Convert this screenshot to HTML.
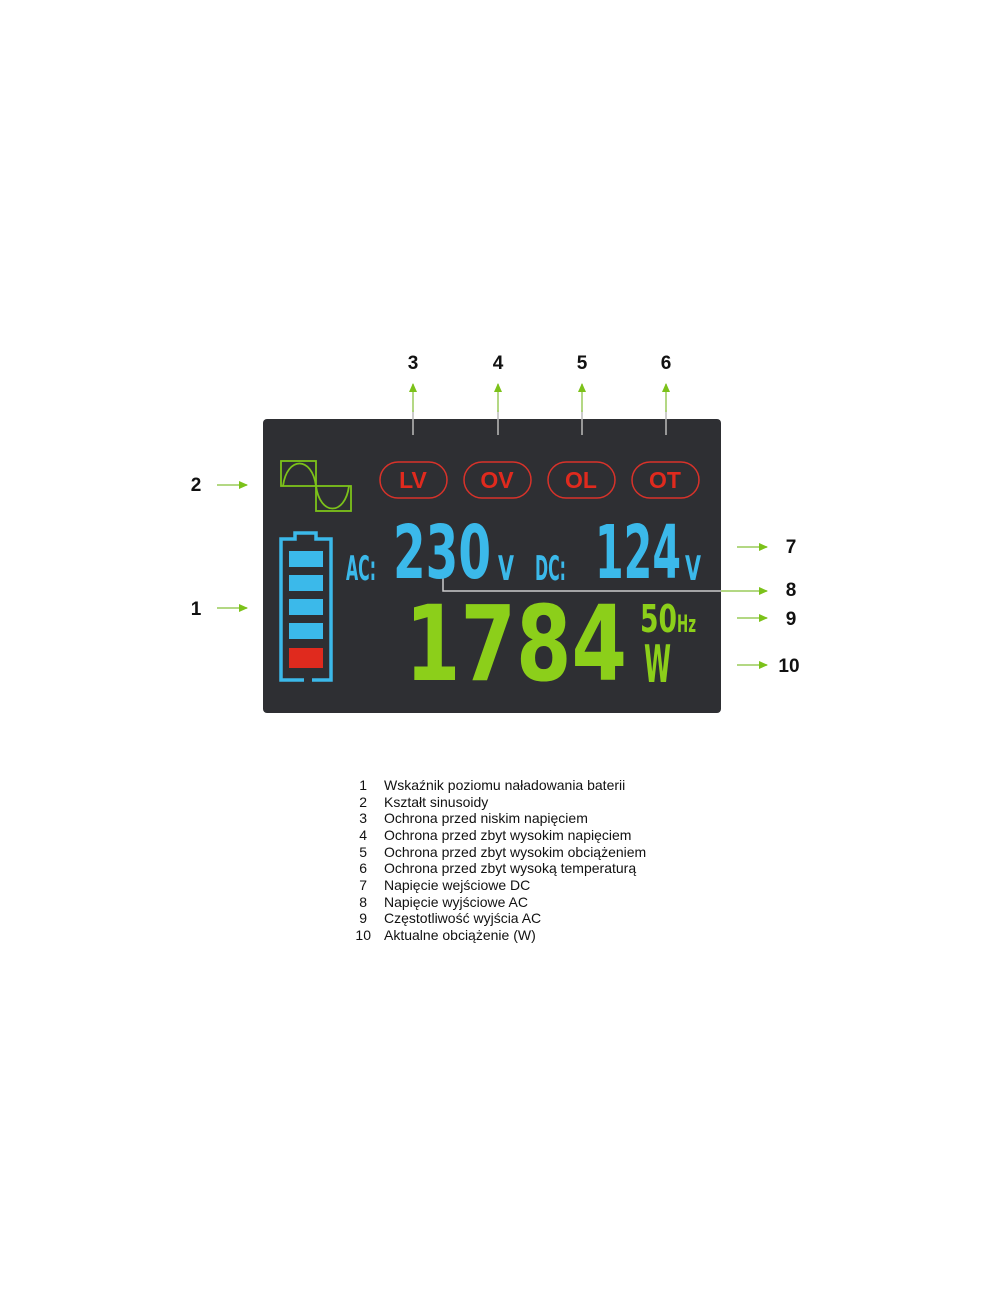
<!DOCTYPE html>
<html><head><meta charset="utf-8"><style>
html,body{margin:0;padding:0;background:#fff;width:1000px;height:1309px;overflow:hidden}
svg{display:block}
.n{font-family:"Liberation Sans",sans-serif;font-weight:bold;font-size:19px;fill:#111}
.l{font-family:"Liberation Sans","Noto Sans CJK SC",sans-serif;font-size:14px;fill:#111}
.seg{font-family:"DejaVu Sans","Liberation Sans",sans-serif;font-weight:bold}
</style></head><body>
<svg width="1000" height="1309" viewBox="0 0 1000 1309">
<defs>
<marker id="a" markerWidth="10" markerHeight="10" refX="8" refY="5" orient="auto" markerUnits="userSpaceOnUse"><path d="M0,1 L9,5 L0,9 Z" fill="#7cc21a"/></marker>
</defs>
<rect x="263" y="419" width="458" height="294" rx="4" fill="#2e2f33"/>
<g class="n" text-anchor="middle">
<text x="413" y="369">3</text><text x="498" y="369">4</text><text x="582" y="369">5</text><text x="666" y="369">6</text>
<text x="196" y="491">2</text><text x="196" y="615">1</text>
<text x="791" y="553">7</text><text x="791" y="596">8</text><text x="791" y="625">9</text><text x="789" y="672">10</text>
</g>
<g stroke-width="1.5">
<g stroke="#bbb"><line x1="413" y1="435" x2="413" y2="410"/><line x1="498" y1="435" x2="498" y2="410"/><line x1="582" y1="435" x2="582" y2="410"/><line x1="666" y1="435" x2="666" y2="410"/></g>
<g stroke="#9acb5a" marker-end="url(#a)"><line x1="413" y1="412" x2="413" y2="384"/><line x1="498" y1="412" x2="498" y2="384"/><line x1="582" y1="412" x2="582" y2="384"/><line x1="666" y1="412" x2="666" y2="384"/>
<line x1="217" y1="485" x2="247" y2="485"/><line x1="217" y1="608" x2="247" y2="608"/>
<line x1="737" y1="547" x2="767" y2="547"/><line x1="737" y1="618" x2="767" y2="618"/><line x1="737" y1="665" x2="767" y2="665"/>
<line x1="721" y1="591" x2="767" y2="591"/></g>
<polyline points="443,578 443,591 721,591" fill="none" stroke="#ccc"/>
</g>
<g fill="none" stroke="#7cc21a" stroke-width="1.8">
<rect x="281" y="461" width="35" height="25"/><rect x="316" y="486" width="35" height="25"/>
<path d="M283,486 C287,456 312,456 316,486 C320,516 345,516 349,486"/>
</g>
<g fill="none" stroke="#d8322a" stroke-width="1.5">
<rect x="380" y="462" width="67" height="36" rx="18"/><rect x="464" y="462" width="67" height="36" rx="18"/>
<rect x="548" y="462" width="67" height="36" rx="18"/><rect x="632" y="462" width="67" height="36" rx="18"/>
</g>
<g font-family="Liberation Sans,sans-serif" font-weight="bold" font-size="23" fill="#e02a1e" text-anchor="middle">
<text x="413" y="488">LV</text><text x="497" y="488">OV</text><text x="581" y="488">OL</text><text x="665" y="488">OT</text>
</g>
<path d="M304,680 H281 V539 H295 V533 H316 V539 H331 V680 H312" fill="none" stroke="#3bb9ea" stroke-width="3.5"/>
<g fill="#3bb9ea"><rect x="289" y="551" width="34" height="16"/><rect x="289" y="575" width="34" height="16"/><rect x="289" y="599" width="34" height="16"/><rect x="289" y="623" width="34" height="16"/></g>
<rect x="289" y="648" width="34" height="20" fill="#e02a1e"/>
<g class="seg" fill="#3bb9ea">
<text x="346" y="580" font-size="34" textLength="30" lengthAdjust="spacingAndGlyphs">AC:</text>
<text x="393" y="578" font-size="74" textLength="98" lengthAdjust="spacingAndGlyphs">230</text>
<text x="498" y="580" font-size="34" textLength="16" lengthAdjust="spacingAndGlyphs">V</text>
<text x="535" y="580" font-size="34" textLength="31" lengthAdjust="spacingAndGlyphs">DC:</text>
<text x="595" y="578" font-size="74" textLength="86" lengthAdjust="spacingAndGlyphs">124</text>
<text x="685" y="580" font-size="34" textLength="16" lengthAdjust="spacingAndGlyphs">V</text>
</g>
<g class="seg" fill="#8ccf1a">
<text x="405" y="680" font-size="104" textLength="222" lengthAdjust="spacingAndGlyphs">1784</text>
<text x="640" y="632" font-size="38" textLength="37" lengthAdjust="spacingAndGlyphs">50</text>
<text x="677" y="632" font-size="24" textLength="19" lengthAdjust="spacingAndGlyphs">Hz</text>
<text x="644" y="682" font-size="52" textLength="27" lengthAdjust="spacingAndGlyphs">W</text>
</g>
<g class="l">
<g text-anchor="end"><text x="367" y="790">1</text><text x="367" y="807">2</text><text x="367" y="823">3</text><text x="367" y="840">4</text><text x="367" y="857">5</text><text x="367" y="873">6</text><text x="367" y="890">7</text><text x="367" y="907">8</text><text x="367" y="923">9</text><text x="371" y="940">10</text></g>
<text x="384" y="790">Wskaźnik poziomu naładowania baterii</text>
<text x="384" y="807">Kształt sinusoidy</text>
<text x="384" y="823">Ochrona przed niskim napięciem</text>
<text x="384" y="840">Ochrona przed zbyt wysokim napięciem</text>
<text x="384" y="857">Ochrona przed zbyt wysokim obciążeniem</text>
<text x="384" y="873">Ochrona przed zbyt wysoką temperaturą</text>
<text x="384" y="890">Napięcie wejściowe DC</text>
<text x="384" y="907">Napięcie wyjściowe AC</text>
<text x="384" y="923">Częstotliwość wyjścia AC</text>
<text x="384" y="940">Aktualne obciążenie (W)</text>
</g>
</svg>
</body></html>
